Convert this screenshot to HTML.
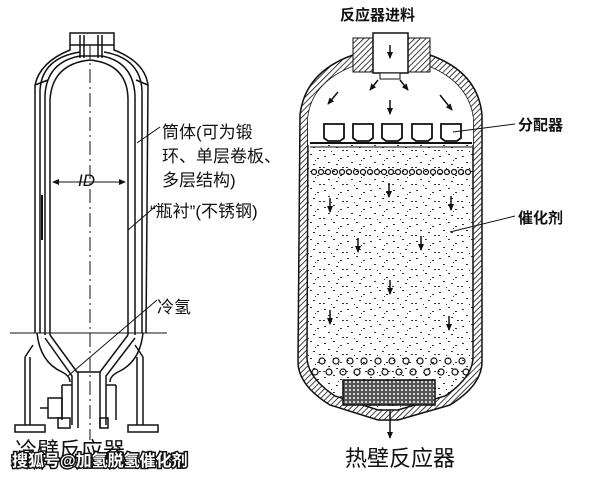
<!DOCTYPE html>
<html><head><meta charset="utf-8"><style>
html,body{margin:0;padding:0;background:#fff;}
svg{display:block;}
text{font-family:"Liberation Sans","Noto Sans CJK SC",sans-serif;fill:#111;}
</style></head><body>
<svg width="604" height="477" viewBox="0 0 604 477" xmlns="http://www.w3.org/2000/svg">
<defs>
<pattern id="hatch" width="4" height="4" patternUnits="userSpaceOnUse" patternTransform="rotate(45)">
<rect width="4" height="4" fill="#fff"/><line x1="0" y1="0" x2="0" y2="4" stroke="#111" stroke-width="1.6"/></pattern>
<pattern id="mesh" width="4" height="4" patternUnits="userSpaceOnUse">
<rect width="4" height="4" fill="#555"/><circle cx="2" cy="2" r="1" fill="#fff"/></pattern>
<pattern id="speck" width="23" height="17" patternUnits="userSpaceOnUse">
<rect width="23" height="17" fill="#fff"/>
<g fill="#333">
<rect x="2" y="3" width="2" height="1"/><rect x="11" y="1" width="2" height="1"/><rect x="18" y="5" width="2" height="1"/>
<rect x="6" y="9" width="2" height="1"/><rect x="14" y="11" width="2" height="1"/><rect x="20" y="14" width="2" height="1"/>
<rect x="1" y="14" width="2" height="1"/><rect x="9" y="15" width="1" height="1"/><rect x="16" y="7" width="1" height="1"/></g></pattern>
<marker id="ah" markerUnits="userSpaceOnUse" markerWidth="7" markerHeight="6" refX="6" refY="3" orient="auto"><path d="M0,0 L7,3 L0,6z" fill="#111"/></marker>
<marker id="ah2" markerUnits="userSpaceOnUse" markerWidth="7" markerHeight="6" refX="1" refY="3" orient="auto"><path d="M7,0 L0,3 L7,6z" fill="#111"/></marker>
</defs>

<!-- LEFT: cold wall reactor -->
<g fill="none" stroke="#111" stroke-width="1.5">
<rect x="70" y="33" width="44" height="12"/>
<line x1="80" y1="35" x2="80" y2="58"/><line x1="84" y1="35" x2="84" y2="58"/>
<line x1="98" y1="35" x2="98" y2="58"/><line x1="102" y1="35" x2="102" y2="58"/>
<path d="M70,45 L70,50 Q40,62 35,85 L35,333"/>
<path d="M114,45 L114,50 Q145,62 148,85 L146,333"/>
<line x1="35" y1="85" x2="48" y2="80"/><line x1="148" y1="85" x2="136" y2="80"/>
<path d="M40,90 Q42,58 80,52"/><path d="M142,90 Q140,58 104,52"/>
<line x1="40" y1="90" x2="40" y2="333"/><line x1="142" y1="90" x2="142" y2="333"/>
<path d="M45,335 L45,95 Q47,62 80,56 L102,56 Q133,62 135,95 L135,335"/>
<path d="M50,335 L50,100 Q52,64 90,60 Q128,64 128,100 L128,335"/>
<!-- cone -->
<path d="M50,335 L77,372 L100,372 L128,335"/>
<path d="M45,338 L72,376 L72,425"/><path d="M135,338 L106,376 L106,425"/>
<path d="M37,333 Q40,362 62,372 Q70,376 70,382"/><path d="M143,333 Q140,362 118,372 Q110,376 110,382"/>
<line x1="62" y1="385" x2="62" y2="420"/><line x1="116" y1="385" x2="116" y2="420"/>
<line x1="62" y1="385" x2="72" y2="385"/><line x1="106" y1="385" x2="116" y2="385"/>
<line x1="78" y1="372" x2="78" y2="428"/><line x1="100" y1="372" x2="100" y2="428"/>
<rect x="58" y="418" width="12" height="10"/><rect x="100" y="418" width="8" height="10"/>
<!-- legs -->
<line x1="25" y1="357" x2="25" y2="425"/><line x1="30" y1="357" x2="30" y2="425"/>
<line x1="25" y1="357" x2="33" y2="345"/>
<line x1="137" y1="357" x2="137" y2="425"/><line x1="143" y1="357" x2="143" y2="425"/>
<line x1="143" y1="357" x2="135" y2="345"/>
<rect x="15" y="425" width="30" height="7"/><rect x="128" y="425" width="30" height="7"/>
<rect x="48" y="398" width="14" height="20"/><line x1="40" y1="408" x2="48" y2="408"/>
<line x1="10" y1="333" x2="167" y2="333" stroke-width="1"/>
<line x1="90" y1="45" x2="90" y2="440" stroke-width="1" stroke-dasharray="14,4,2,4"/>
<line x1="53" y1="182" x2="125" y2="182" stroke-width="1" marker-end="url(#ah)" marker-start="url(#ah2)"/>
<line x1="160" y1="127" x2="137" y2="143" stroke-width="1"/>
<line x1="157" y1="205" x2="128" y2="230" stroke-width="1"/>
<line x1="157" y1="300" x2="68" y2="376" stroke-width="1"/>
<line x1="42" y1="195" x2="42" y2="240" stroke-width="2"/>
</g>
<text x="78" y="186" font-size="17" font-style="italic" font-family="Liberation Serif,serif">ID</text>
<text x="162" y="138" font-size="17">筒体(可为锻</text>
<text x="162" y="162" font-size="17">环、单层卷板、</text>
<text x="162" y="186" font-size="17">多层结构)</text>
<text x="150" y="217" font-size="17">“瓶衬”(不锈钢)</text>
<text x="157" y="313" font-size="17">冷氢</text>
<text x="15" y="458" font-size="22">冷壁反应器</text>
<text x="12" y="466" font-size="16" font-weight="bold" style="fill:#fff;stroke:#111;stroke-width:3;paint-order:stroke">搜狐号@加氢脱氢催化剂</text>

<!-- RIGHT: hot wall reactor -->
<text x="340" y="20" font-size="15" font-weight="bold">反应器进料</text>
<path d="M353,55 Q305,72 300,115 L298,362 Q298,385 330,405 L378,420 L398,420 L450,405 Q482,385 482,362 L482,115 Q478,72 430,55 Z" fill="url(#hatch)" stroke="#111" stroke-width="1.5"/>
<path d="M360,64 Q312,80 308,118 L307,358 Q308,378 335,396 L378,410 L398,410 L445,396 Q472,378 473,358 L473,118 Q468,80 422,64 Z" fill="url(#speck)" stroke="#111" stroke-width="1.5"/>
<path d="M360,64 Q312,80 308,118 L308,145 L473,145 L473,118 Q468,80 422,64 Z" fill="#fff" stroke="none"/>
<path d="M353,38 L373,38 L373,72 L353,72 Z" fill="url(#hatch)" stroke="#111"/>
<path d="M408,38 L430,38 L430,72 L408,72 Z" fill="url(#hatch)" stroke="#111"/>
<rect x="373" y="33" width="35" height="40" fill="#fff" stroke="#111" stroke-width="1.5"/>
<rect x="380" y="73" width="20" height="6" fill="#fff" stroke="#111"/>
<g stroke="#111" stroke-width="1.5" marker-end="url(#ah)">
<line x1="390" y1="45" x2="390" y2="58"/>
<line x1="378" y1="80" x2="370" y2="90"/><line x1="400" y1="80" x2="408" y2="90"/>
<line x1="390" y1="100" x2="390" y2="114"/>
<line x1="338" y1="92" x2="328" y2="104"/><line x1="440" y1="95" x2="452" y2="110"/>
<line x1="390" y1="410" x2="390" y2="438"/>
</g>
<g fill="#fff" stroke="#111" stroke-width="1.8">
<path d="M324,124 h20 v14 l-4,3 h-12 l-4,-3z"/>
<path d="M353,124 h20 v14 l-4,3 h-12 l-4,-3z"/>
<path d="M382,124 h20 v14 l-4,3 h-12 l-4,-3z"/>
<path d="M412,124 h20 v14 l-4,3 h-12 l-4,-3z"/>
<path d="M441,124 h20 v14 l-4,3 h-12 l-4,-3z"/>
</g>
<line x1="310" y1="143" x2="472" y2="143" stroke="#111" stroke-width="2"/>
<line x1="310" y1="147" x2="472" y2="147" stroke="#111" stroke-width="1"/>
<g fill="none" stroke="#111" stroke-width="1.2">
<circle cx="314" cy="172" r="2.5"/><circle cx="321" cy="172" r="2.5"/><circle cx="328" cy="172" r="2.5"/><circle cx="335" cy="172" r="2.5"/><circle cx="342" cy="172" r="2.5"/><circle cx="349" cy="172" r="2.5"/><circle cx="356" cy="172" r="2.5"/><circle cx="363" cy="172" r="2.5"/><circle cx="370" cy="172" r="2.5"/><circle cx="377" cy="172" r="2.5"/><circle cx="384" cy="172" r="2.5"/><circle cx="391" cy="172" r="2.5"/><circle cx="398" cy="172" r="2.5"/><circle cx="405" cy="172" r="2.5"/><circle cx="412" cy="172" r="2.5"/><circle cx="419" cy="172" r="2.5"/><circle cx="426" cy="172" r="2.5"/><circle cx="433" cy="172" r="2.5"/><circle cx="440" cy="172" r="2.5"/><circle cx="447" cy="172" r="2.5"/><circle cx="454" cy="172" r="2.5"/><circle cx="461" cy="172" r="2.5"/><circle cx="468" cy="172" r="2.5"/>
<circle cx="322" cy="361" r="3"/><circle cx="336" cy="361" r="3"/><circle cx="350" cy="361" r="3"/><circle cx="364" cy="361" r="3"/><circle cx="378" cy="361" r="3"/><circle cx="392" cy="361" r="3"/><circle cx="406" cy="361" r="3"/><circle cx="420" cy="361" r="3"/><circle cx="434" cy="361" r="3"/><circle cx="448" cy="361" r="3"/><circle cx="462" cy="361" r="3"/>
<circle cx="315" cy="372" r="3"/><circle cx="329" cy="372" r="3"/><circle cx="343" cy="372" r="3"/><circle cx="357" cy="372" r="3"/><circle cx="371" cy="372" r="3"/><circle cx="385" cy="372" r="3"/><circle cx="399" cy="372" r="3"/><circle cx="413" cy="372" r="3"/><circle cx="427" cy="372" r="3"/><circle cx="441" cy="372" r="3"/><circle cx="455" cy="372" r="3"/><circle cx="466" cy="372" r="3"/>
</g>
<rect x="343" y="380" width="92" height="25" fill="url(#mesh)" stroke="#111" stroke-width="1.5"/>
<g stroke="#111" stroke-width="1.5" marker-end="url(#ah)">
<line x1="389" y1="183" x2="389" y2="197"/><line x1="330" y1="198" x2="330" y2="212"/><line x1="451" y1="196" x2="451" y2="210"/>
<line x1="358" y1="238" x2="358" y2="252"/><line x1="421" y1="236" x2="421" y2="250"/>
<line x1="390" y1="280" x2="390" y2="294"/><line x1="330" y1="310" x2="330" y2="324"/><line x1="449" y1="316" x2="449" y2="330"/>
</g>
<line x1="453" y1="132" x2="515" y2="124" stroke="#111" stroke-width="1"/>
<line x1="450" y1="232" x2="515" y2="216" stroke="#111" stroke-width="1"/>
<text x="518" y="130" font-size="15" font-weight="bold">分配器</text>
<text x="518" y="223" font-size="15" font-weight="bold">催化剂</text>
<text x="345" y="466" font-size="22">热壁反应器</text>
</svg>
</body></html>
